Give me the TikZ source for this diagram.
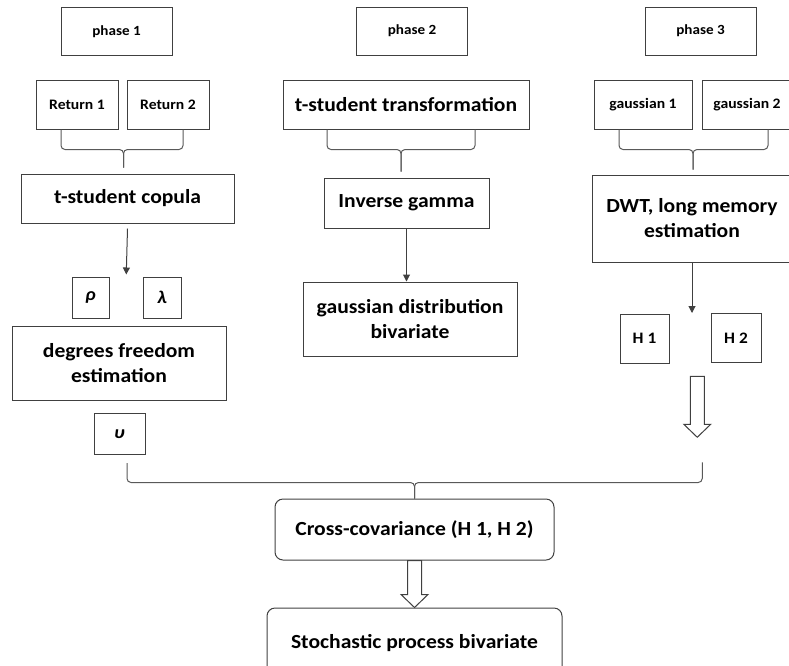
\documentclass[tikz,border=0pt]{standalone}
\usepackage{fontspec}
\setmainfont{Carlito}[FakeStretch=1.08]
\usetikzlibrary{arrows.meta,calc}

% curly join: two ends, tip, drop of the tip
\newcommand\joinbrace[4]{%
  \draw[cpbrace] (#1) |- ($(#3)+(0,-#4)$) -- (#3);
  \draw[cpbrace] (#2) |- ($(#3)+(0,-#4)$) -- (#3);}
% hollow block arrow from #1 down to #2
\newcommand\hollowarrow[2]{%
  \draw[cphollow] ($(#1)+(-7,0)$) -- ($(#2)+(-7,-13)$) -- ($(#2)+(-13.5,-13)$) -- (#2)
    -- ($(#2)+(13.5,-13)$) -- ($(#2)+(7,-13)$) -- ($(#1)+(7,0)$) -- cycle;}

\begin{document}
\begin{tikzpicture}[x=1pt,y=-1pt,
  cpphase/.style={draw=black!75,line width=1pt,minimum width=111,minimum height=48,
    inner sep=0pt,font=\bfseries\fontsize{14}{16}\selectfont},
  cpsmall/.style={draw=black!75,line width=1pt,minimum width=82,minimum height=49,
    inner sep=0pt,font=\bfseries\fontsize{14.5}{17}\selectfont},
  cpbox/.style={draw=black!75,line width=1pt,align=center,inner sep=0pt,
    font=\bfseries\fontsize{20}{25}\selectfont},
  cpround/.style={cpbox,rounded corners=8pt},
  cpgreek/.style={draw=black!75,line width=1pt,minimum height=41,inner sep=0pt,
    font=\bfseries\itshape\fontsize{18}{20}\selectfont},
  cparr/.style={draw=black!75,line width=1pt,-{Triangle[width=7pt,length=7pt]}},
  cpbrace/.style={draw=black!65,line width=1pt,rounded corners=4pt},
  cphollow/.style={draw=black!75,line width=1pt,fill=white,line join=miter}
]
  \useasboundingbox (0,0) rectangle (789,665);
  \clip (0,0) rectangle (789,665);
  % Phase titles
  \node[cpphase] (ph1) at (116.5,31.5) {phase 1};
  \node[cpphase] (ph2) at (412,31) {phase 2};
  \node[cpphase] (ph3) at (700.5,31) {phase 3};
  % Phase 1: copula
  \node[cpsmall] (ret1) at (77,104.5) {Return 1};
  \node[cpsmall] (ret2) at (168,104.5) {Return 2};
  \node[cpbox,minimum width=213,minimum height=49] (copula) at (127.5,198.5) {t-student copula};
  \node[cpgreek,minimum width=37] (rho) at (90.5,297.5) {ρ};
  \node[cpgreek,minimum width=38] (lambda) at (162,297.5) {λ};
  \node[cpbox,minimum width=214,minimum height=74] (dof) at (119,363) {degrees freedom\\estimation};
  \node[cpgreek,minimum width=51] (nu) at (119.5,434) {υ};
  % Phase 2: transformation
  \node[cpbox,minimum width=246,minimum height=49] (tst) at (406,104.5) {t-student transformation};
  \node[cpbox,minimum width=165,minimum height=50] (invg) at (406.5,203) {Inverse gamma};
  \node[cpbox,minimum width=214,minimum height=74] (gdb) at (410,319) {gaussian distribution\\bivariate};
  % Phase 3: long memory
  \node[cpsmall,minimum width=98] (gau1) at (643,104.5) {gaussian 1};
  \node[cpsmall,minimum width=90] (gau2) at (747,104.5) {gaussian 2};
  \node[cpbox,minimum width=200,minimum height=87] (dwt) at (692,218.5) {DWT, long memory\\estimation};
  \node[cpsmall,minimum width=49,font=\bfseries\fontsize{16}{18}\selectfont] (h1) at (644.5,338.5) {H 1};
  \node[cpsmall,minimum width=50,font=\bfseries\fontsize{16}{18}\selectfont] (h2) at (736,338) {H 2};
  % Joint result
  \node[cpround,minimum width=279,minimum height=61] (cross) at (414.5,529.5) {Cross-covariance (H 1, H 2)};
  \node[cpround,minimum width=295,minimum height=70] (stoch) at (414.5,643) {Stochastic process bivariate};

  % arrows
  \coordinate (a1t) at ($(rho.north)!0.5!(lambda.north)+(0,-2)$);
  \draw[cparr] ($(copula.south)+(0,5)$) -- (a1t);
  \draw[cparr] (invg.south) -- (invg.south |- gdb.north);
  \draw[cparr] (dwt.south) -- (dwt.south |- h2.north);
  % braces
  \coordinate (b1l) at ($(ret1.south)+(-16,0)$);
  \coordinate (b1r) at ($(ret2.south)+(15,0)$);
  \coordinate (b1t) at ($(copula.north)+(-4,-6)$);
  \joinbrace{b1l}{b1r}{b1t}{18}
  \coordinate (b2l) at ($(tst.south)+(-79,0)$);
  \coordinate (b2r) at ($(tst.south)+(69,0)$);
  \coordinate (b2t) at ($(invg.north)+(-5.5,-6)$);
  \joinbrace{b2l}{b2r}{b2t}{22}
  \coordinate (b3l) at ($(gau1.south)+(-24,0)$);
  \coordinate (b3r) at ($(gau2.south)+(21,0)$);
  \coordinate (b3t) at ($(dwt.north)+(1,-5)$);
  \joinbrace{b3l}{b3r}{b3t}{20}
  % hollow arrows
  \coordinate (ha3s) at ($(h1.south)!0.5!(h2.south)+(7,13)$);
  \coordinate (ha3t) at ($(ha3s)+(0,61)$);
  \hollowarrow{ha3s}{ha3t}
  \coordinate (b4l) at ($(nu.south)+(7.5,8)$);
  \coordinate (b4r) at ($(ha3t)+(5,25)$);
  \joinbrace{b4l}{b4r}{cross.north}{16}
  \hollowarrow{cross.south}{stoch.north}
\end{tikzpicture}
\end{document}
